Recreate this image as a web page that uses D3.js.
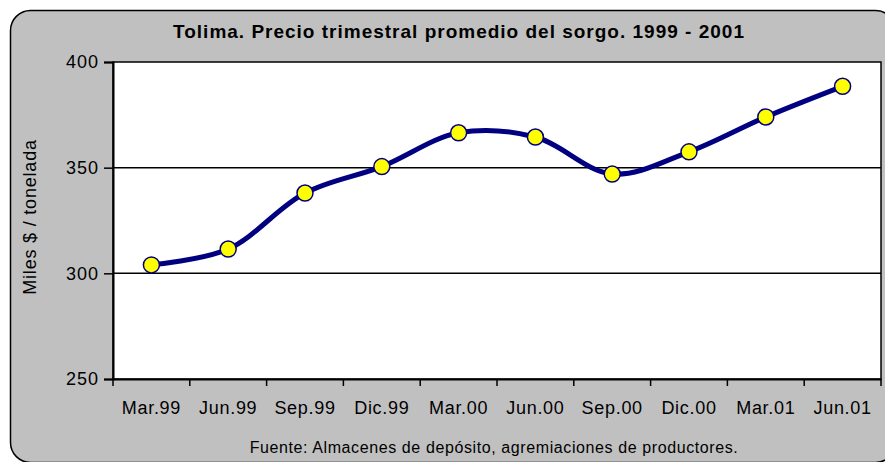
<!DOCTYPE html>
<html>
<head>
<meta charset="utf-8">
<script src="https://cdn.jsdelivr.net/npm/d3@7"></script>
<style>
  body { margin: 0; background: #fff; }
  text { font-family: "Liberation Sans", Arial, sans-serif; }
</style>
</head>
<body>
<svg id="chart" width="885" height="462"></svg>
<script>
// quarterly average sorghum price, thousand $ / ton
const quarters = ["Mar.99", "Jun.99", "Sep.99", "Dic.99", "Mar.00", "Jun.00", "Sep.00", "Dic.00", "Mar.01", "Jun.01"];
const prices = [304, 311.5, 338, 350.5, 366.5, 364.5, 347, 357.5, 374, 388.5];
const yTicks = [250, 300, 350, 400];

const W = 885, H = 462;
const margin = {top: 62, right: 4, bottom: 83, left: 113};

const svg = d3.select("#chart");

// grey rounded frame
svg.append("rect")
  .attr("x", 10.5).attr("y", 10.5)
  .attr("width", 885).attr("height", 452)
  .attr("rx", 20)
  .attr("fill", "#c0c0c0")
  .attr("stroke", "#000").attr("stroke-width", 1.5);

const x = d3.scaleBand().domain(quarters).range([margin.left, W - margin.right]);
const y = d3.scaleLinear().domain([250, 400]).range([H - margin.bottom, margin.top]);

// plot area
svg.append("rect")
  .attr("x", margin.left).attr("y", margin.top)
  .attr("width", W - margin.right - margin.left)
  .attr("height", H - margin.bottom - margin.top)
  .attr("fill", "#fff")
  .attr("stroke", "#000").attr("stroke-width", 1.5);

// gridlines
svg.append("g")
  .selectAll("line")
  .data(yTicks.slice(1, -1))
  .enter().append("line")
    .attr("x1", margin.left).attr("x2", W - margin.right)
    .attr("y1", d => y(d)).attr("y2", d => y(d))
    .attr("stroke", "#000").attr("stroke-width", 1.5);

// y axis
const yAxis = svg.append("g")
  .attr("transform", `translate(${margin.left},0)`)
  .call(d3.axisLeft(y).tickValues(yTicks).tickSize(9).tickPadding(5));
yAxis.select(".domain").attr("stroke-width", 2);
yAxis.selectAll(".tick line").attr("stroke-width", 1.5);
yAxis.selectAll("text").attr("font-size", 18).attr("fill", "#000")
  .attr("letter-spacing", 1)
  .style("font-family", "'Liberation Sans', Arial, sans-serif");

// x axis, ticks on band edges
const xAxis = svg.append("g")
  .attr("transform", `translate(0,${H - margin.bottom})`)
  .call(d3.axisBottom(x).tickSize(0).tickPadding(22));
xAxis.select(".domain").attr("stroke-width", 2);
xAxis.selectAll("text").attr("font-size", 18).attr("fill", "#000")
  .attr("letter-spacing", 0.7)
  .style("font-family", "'Liberation Sans', Arial, sans-serif");
xAxis.selectAll(".edge")
  .data(quarters.concat(["end"]))
  .enter().append("line")
    .attr("class", "edge")
    .attr("x1", (d, i) => i < quarters.length ? x(d) : x.range()[1])
    .attr("x2", (d, i) => i < quarters.length ? x(d) : x.range()[1])
    .attr("y1", 0).attr("y2", 7)
    .attr("stroke", "#000").attr("stroke-width", 1.5);

// smoothed line
const line = d3.line()
  .x((d, i) => x(quarters[i]) + x.bandwidth() / 2)
  .y(d => y(d))
  .curve(d3.curveCatmullRom.alpha(0.5));

svg.append("path")
  .attr("d", line(prices))
  .attr("fill", "none")
  .attr("stroke", "#000080")
  .attr("stroke-width", 5)
  .attr("stroke-linejoin", "round");

svg.append("g")
  .selectAll("circle")
  .data(prices)
  .enter().append("circle")
    .attr("cx", (d, i) => x(quarters[i]) + x.bandwidth() / 2)
    .attr("cy", d => y(d))
    .attr("r", 8)
    .attr("fill", "#ffff00")
    .attr("stroke", "#000080")
    .attr("stroke-width", 1.5);

// texts
svg.append("text")
  .attr("x", 459).attr("y", 38)
  .attr("text-anchor", "middle")
  .attr("font-size", 19).attr("font-weight", "bold")
  .attr("letter-spacing", 1)
  .text("Tolima. Precio trimestral promedio del sorgo. 1999 - 2001");

svg.append("text")
  .attr("transform", "translate(36,217) rotate(-90)")
  .attr("text-anchor", "middle")
  .attr("font-size", 18)
  .attr("letter-spacing", 0.8)
  .text("Miles $ / tonelada");

svg.append("text")
  .attr("x", 494).attr("y", 453)
  .attr("text-anchor", "middle")
  .attr("font-size", 16)
  .attr("letter-spacing", 0.6)
  .text("Fuente: Almacenes de depósito, agremiaciones de productores.");
</script>
</body>
</html>
